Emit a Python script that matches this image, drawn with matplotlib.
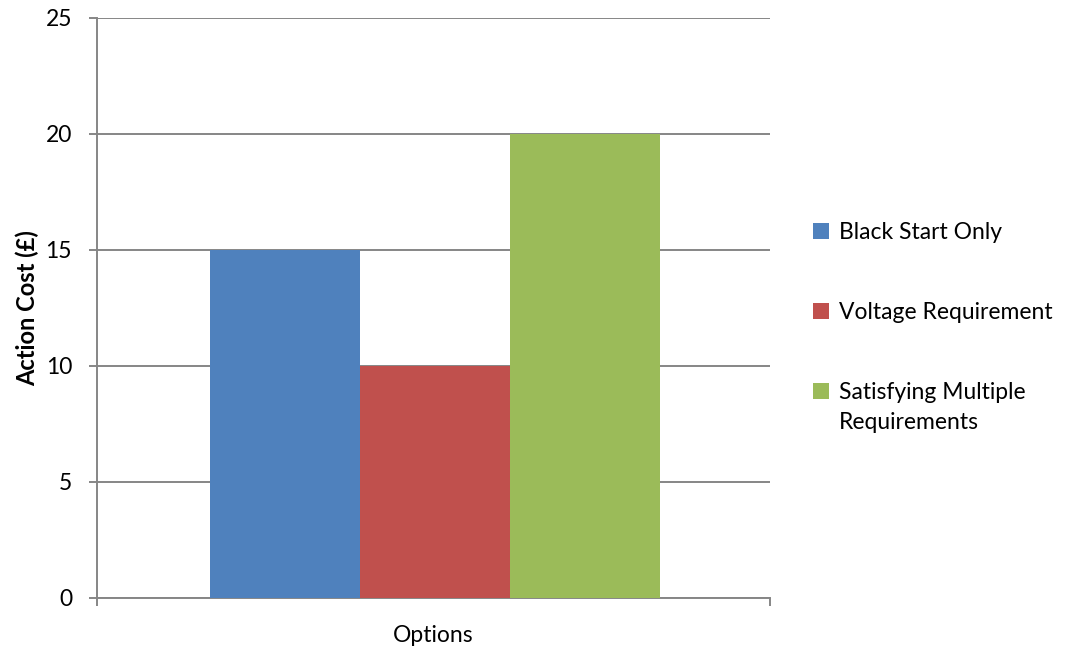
import matplotlib
matplotlib.use("Agg")
import matplotlib.pyplot as plt
import numpy as np

categories = ["Options"]
series_names = ["Black Start Only", "Voltage Requirement", "Satisfying Multiple Requirements"]
series_values = [15, 10, 20]
colors = ["#4F81BD", "#C0504D", "#9BBB59"]
y_ticks = [0, 5, 10, 15, 20, 25]

plt.rcParams['font.family'] = ['Lato', 'DejaVu Sans']
FS = 16.5

fig = plt.figure(figsize=(10.75, 6.49), dpi=100)
ax = fig.add_axes([97/1075, 1-598/649, (770-97)/1075, (598-18)/649])

grid_c = "#868686"
w = 0.223
x = np.arange(len(categories))
handles = []
for i, (name, val, c) in enumerate(zip(series_names, series_values, colors)):
    b = ax.bar(x + (i - 1) * w + 0.002, [val], width=w, color=c, label=name, zorder=3)
    handles.append(b)

ax.set_xlim(-0.5, 0.5)
ax.set_ylim(0, 25)
ax.set_yticks(y_ticks)
ax.set_yticklabels([str(t) for t in y_ticks])
ax.yaxis.grid(True, color=grid_c, linewidth=1.4, zorder=0)
ax.set_axisbelow(True)
ax.set_xticks(x)
ax.set_xticklabels(categories)
ax.set_xticks([-0.5, 0.5], minor=True)
ax.tick_params(axis='x', which='major', length=0, pad=19.5, labelsize=FS)
ax.tick_params(axis='x', which='minor', length=6, width=1.4, color=grid_c)
ax.tick_params(axis='y', length=6, width=1.4, color=grid_c, pad=12, labelsize=FS)

for s in ['top', 'right']:
    ax.spines[s].set_visible(False)
for s in ['left', 'bottom']:
    ax.spines[s].set_color(grid_c)
    ax.spines[s].set_linewidth(1.4)

ax.set_ylabel("Action Cost (£)", fontsize=17, fontweight='bold', labelpad=4.5)

# legend: wrap the long name after its second word, handle aligned with first line
first_lines = [n if len(n) < 25 else " ".join(n.split()[:2]) for n in series_names]
leg = ax.legend(handles=handles, labels=first_lines, loc='upper left',
                bbox_to_anchor=(804/1075, 1-213/649), bbox_transform=fig.transFigure,
                frameon=False, fontsize=FS, handlelength=0.68, handleheight=0.68,
                handletextpad=0.45, labelspacing=2.57, borderaxespad=0)

fig.canvas.draw()
for full, txt in zip(series_names, leg.get_texts()):
    rest = full[len(txt.get_text()):].strip()
    if rest:
        bb = txt.get_window_extent()
        fig.text(bb.x0 / fig.bbox.width, (bb.y0 - 30) / fig.bbox.height, rest,
                 fontsize=FS, ha='left', va='bottom')

fig.savefig("out.png", dpi=100)
